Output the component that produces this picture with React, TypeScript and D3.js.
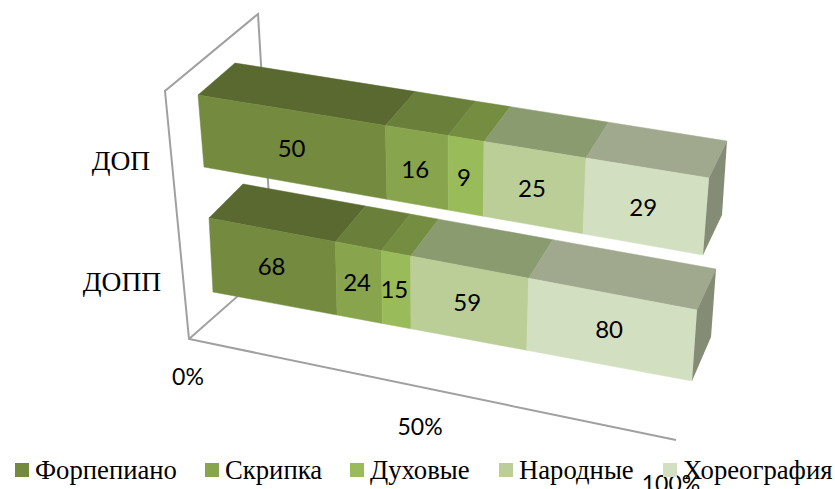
import * as d3 from 'd3';

// values
const categories = ['ДОП', 'ДОПП'];
const seriesNames = ['Форпепиано', 'Скрипка', 'Духовые', 'Народные', 'Хореография'];
const dopValues = [50, 16, 9, 25, 29];
const doppValues = [68, 24, 15, 59, 80];
const percentTicks = [0, 50, 100];

const frontColors = ['#748a3f', '#88a44c', '#9abb59', '#bbce97', '#d3dfc1'];
const topColors = ['#59692f', '#6a7f3a', '#748d40', '#8b9b70', '#a0a98e'];
const sideColor = '#858c76';
const axisColor = '#a0a0a0';

type Pt = [number, number];

// projected corners of each 3d bar: front/back, top/bottom, left/right
const barBoxes = [
  { ftl: [198, 95], fbl: [204, 167], ftr: [709, 178], fbr: [703, 255], btl: [235, 63], btr: [727, 141], bbr: [722, 215] },
  { ftl: [209, 218], fbl: [213, 292], ftr: [697, 310], fbr: [692, 381], btl: [243, 184], btr: [716, 269], bbr: [711, 337] },
] as Record<string, Pt>[];

// axis frame corners
const origin: Pt = [189, 339];
const axisEnd: Pt = [676, 440];
const wallFrontTop: Pt = [165, 91];
const wallBackTop: Pt = [258, 14];
const wallBackBottom: Pt = [273, 265];

const legendX = [15, 205, 350, 499, 663];
const categoryLabelPos: Pt[] = [[121, 170], [122, 291]];
const tickLabelPos: Pt[] = [[188, 385], [420, 435], [671, 492]];
const labelDy = [10, 8];

const rows = categories.map((_, i) => {
  const vals = [dopValues, doppValues][i];
  const row: Record<string, number> = {};
  seriesNames.forEach((s, j) => (row[s] = vals[j]));
  return row;
});

const stacked = d3.stack<Record<string, number>>().keys(seriesNames).offset(d3.stackOffsetExpand)(rows);

// foreshortening along the value axis (left end is further away)
const persp = (t: number) => (0.915 * t) / (1 - t + 0.915 * t);

const lerp = (a: Pt, b: Pt, s: number): Pt => [a[0] + (b[0] - a[0]) * s, a[1] + (b[1] - a[1]) * s];
const line = d3.line();
const poly = (pts: Pt[]) => line(pts) + 'Z';

export default function App() {
  const bars = barBoxes.map((box, i) => {
    const at = (a: Pt, b: Pt, t: number) => lerp(a, b, persp(t));
    const segs = stacked.map((layer, j) => {
      const [t0, t1] = layer[i];
      const front = [at(box.ftl, box.ftr, t0), at(box.ftl, box.ftr, t1), at(box.fbl, box.fbr, t1), at(box.fbl, box.fbr, t0)];
      const top = [at(box.btl, box.btr, t0), at(box.btl, box.btr, t1), at(box.ftl, box.ftr, t1), at(box.ftl, box.ftr, t0)];
      const cx = (front[0][0] + front[1][0] + front[2][0] + front[3][0]) / 4;
      const cy = (front[0][1] + front[1][1] + front[2][1] + front[3][1]) / 4;
      return { j, front, top, cx, cy, value: rows[i][seriesNames[j]] };
    });
    const side = [box.ftr, box.btr, box.bbr, box.fbr];
    return { segs, side };
  });

  return (
    <svg width={835} height={489} style={{ position: 'absolute', left: 0, top: 0 }}>
      <rect width={835} height={489} fill="#fff" />
      {/* walls */}
      <g fill="none" stroke={axisColor} strokeWidth={2}>
        <path d={line([wallBackBottom, wallBackTop, wallFrontTop, origin, axisEnd]) as string} />
        <path d={line([origin, wallBackBottom]) as string} />
      </g>
      {/* bars */}
      {bars.map((b, i) => (
        <g key={categories[i]}>
          {b.segs.map((s) => (
            <g key={s.j}>
              <path d={poly(s.top)} fill={topColors[s.j]} stroke={topColors[s.j]} strokeWidth={0.5} />
              <path d={poly(s.front)} fill={frontColors[s.j]} stroke={frontColors[s.j]} strokeWidth={0.5} />
            </g>
          ))}
          <path d={poly(b.side)} fill={sideColor} />
          {b.segs.map((s) => (
            <text key={s.j} x={s.cx - 2} y={s.cy + labelDy[i]} textAnchor="middle" fontFamily="Lato" fontSize={24} fill="#000">
              {s.value}
            </text>
          ))}
        </g>
      ))}
      {/* category labels */}
      {categories.map((c, i) => (
        <text key={c} x={categoryLabelPos[i][0]} y={categoryLabelPos[i][1]} textAnchor="middle" fontFamily="Liberation Serif" fontSize={27.5} fill="#000">
          {c}
        </text>
      ))}
      {/* percent axis labels */}
      {percentTicks.map((t, i) => (
        <text key={t} x={tickLabelPos[i][0]} y={tickLabelPos[i][1]} textAnchor="middle" fontFamily="Lato" fontSize={23} fill="#000">
          {t}%
        </text>
      ))}
      {/* legend */}
      {seriesNames.map((s, i) => (
        <g key={s}>
          <rect x={legendX[i]} y={463} width={14} height={14} fill={frontColors[i]} />
          <text x={legendX[i] + 20} y={479} fontFamily="Liberation Serif" fontSize={26.7} fill="#000">
            {s}
          </text>
        </g>
      ))}
    </svg>
  );
}
